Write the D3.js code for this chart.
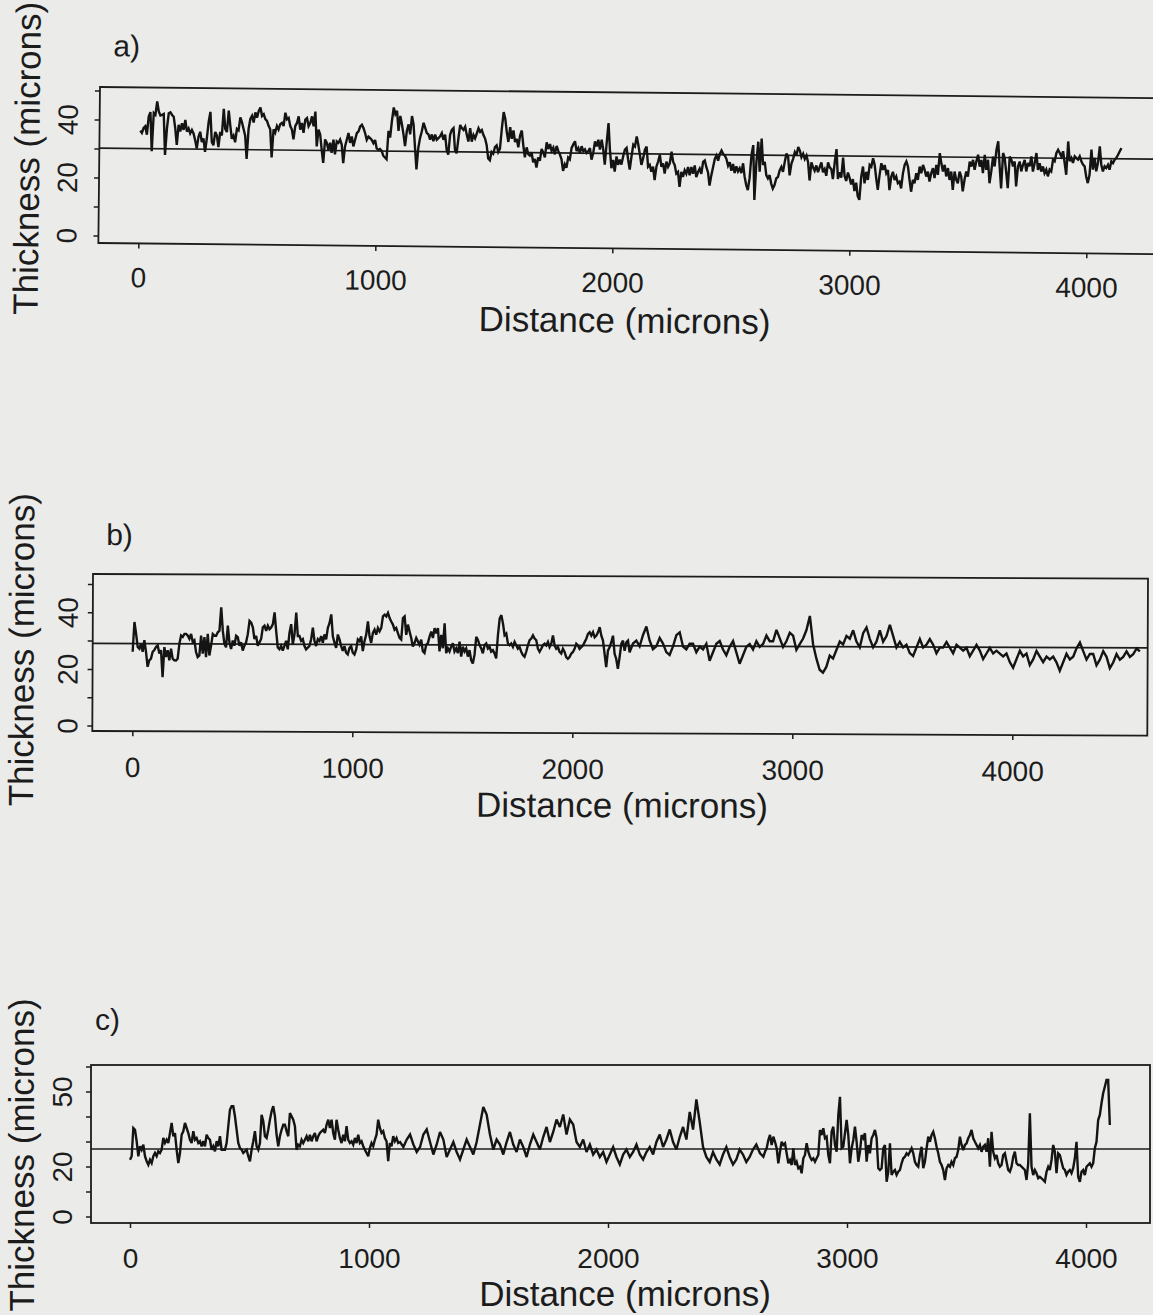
<!DOCTYPE html>
<html>
<head>
<meta charset="utf-8">
<script src="https://cdn.jsdelivr.net/npm/d3@7"></script>
<style>
body { margin: 0; background: #ebebe9; }
svg { display: block; }
text { font-family: "Liberation Sans", Arial, Helvetica, sans-serif; fill: #1c1c1c; }
</style>
</head>
<body>
<svg id="fig" width="1153" height="1315"></svg>
<script>
// thickness profiles (microns) at a regular spacing
var thickA = [
36.5,35.7,37.4,38.0,35.1,41.4,42.9,29.4,42.6,42.0,46.6,43.2,41.8,42.0,42.3,28.2,37.4,42.6,42.9,42.0,
41.4,37.4,31.7,38.6,36.3,39.2,36.9,40.3,36.3,37.4,35.7,36.9,35.7,33.4,30.5,34.6,36.3,32.8,34.0,29.4,
34.0,39.7,43.2,32.8,31.7,36.3,35.1,31.1,36.3,35.1,44.3,37.4,36.3,43.7,38.6,34.0,35.1,32.8,37.4,36.9,
41.4,39.7,37.4,35.1,
27.1,37.4,40.9,42.0,39.7,43.2,41.4,43.7,44.9,42.0,42.6,40.9,40.3,38.6,37.4,27.7,37.4,36.3,38.6,37.4,
39.2,39.7,38.6,43.2,40.9,41.4,38.6,37.4,34.0,38.6,39.7,42.0,37.4,39.7,36.3,40.9,41.4,38.6,39.7,42.0,
38.6,43.7,31.7,37.5,35.8,30.6,26.0,34.1,33.0,30.6,33.0,29.5,34.1,29.0,33.5,33.0,34.1,32.4,26.0,31.8,
34.1,36.4,33.0,35.2,31.8,34.1,36.4,37.0,38.7,39.3,38.1,36.4,34.1,35.2,34.7,34.1,33.0,34.1,31.2,30.7,
31.0,30.4,28.7,28.1,27.5,37.3,35.0,40.8,45.4,43.1,44.2,37.3,42.5,39.6,36.2,32.1,37.3,39.6,36.2,42.5,
39.6,31.6,24.1,31.6,35.0,37.3,40.2,38.5,36.7,36.2,34.4,36.2,33.9,36.2,34.4,35.0,35.6,36.7,34.4,36.2,
31.0,29.3,36.2,37.9,38.5,31.0,29.8,35.0,39.6,38.5,37.9,39.0,36.2,33.9,38.5,33.9,36.2,35.0,36.7,38.5,
37.3,37.9,36.2,35.0,32.7,28.1,27.5,30.4,29.8,32.1,32.7,30.4,31.6,38.5,44.2,41.9,37.3,33.9,39.0,35.0,
37.9,33.9,35.0,32.1,36.2,37.9,32.7,28.7,32.1,29.8,29.3,30.4,27.0,28.1,25.2,28.7,27.5,31.6,30.4,28.7,
33.9,31.6,33.3,31.0,32.1,29.8,32.7,31.0,29.8,28.1,24.1,26.4,25.2,28.7,28.1,32.1,33.3,34.4,31.0,32.1,
30.4,32.7,31.0,31.6,30.4,31.0,32.1,28.1,30.4,34.4,32.7,35.0,31.6,35.0,31.6,26.4,33.9,40.8,31.6,25.2,
28.1,24.1,29.3,26.4,
28.2,26.5,29.4,31.7,32.3,28.2,24.8,29.4,33.4,32.8,36.3,33.4,30.0,26.5,28.8,31.7,32.8,25.9,26.5,24.2,
25.9,21.3,25.9,27.7,30.0,25.9,27.1,23.6,27.7,25.9,27.1,31.1,27.7,26.5,23.6,24.2,19.0,24.2,22.5,24.8,
23.6,25.9,23.1,25.9,23.6,26.5,22.5,24.2,25.4,23.6,27.7,28.2,25.9,24.2,19.6,23.1,25.9,28.8,30.0,28.2,
30.5,31.7,30.5,30.0,28.8,26.5,27.7,24.8,27.1,24.0,26.3,24.6,25.7,24.0,27.4,22.8,19.9,18.2,22.3,30.3,
33.7,14.8,28.0,34.9,24.6,36.0,26.9,28.0,23.4,22.3,23.4,20.5,18.8,20.0,22.3,22.8,25.1,26.3,24.6,28.0,
30.9,29.7,23.4,27.4,29.1,31.4,30.3,33.2,32.0,29.7,30.9,29.1,30.3,28.0,21.7,28.0,26.3,25.1,26.9,24.6,
26.3,28.0,24.6,25.7,23.4,28.0,26.3,25.7,22.3,28.0,32.6,22.3,24.6,22.8,29.7,23.4,21.7,24.6,22.8,20.5,
22.3,18.2,21.1,16.5,
15.2,23.2,26.7,20.9,24.9,22.1,27.3,26.7,29.6,27.3,22.7,18.7,23.9,27.9,25.6,27.3,24.5,25.6,18.7,23.3,
25.0,22.2,23.4,21.1,21.6,19.3,24.5,27.4,28.6,26.8,22.3,18.2,22.3,21.1,24.6,22.3,26.9,24.6,27.5,25.8,
23.5,25.2,21.8,24.7,26.4,23.0,27.5,24.1,31.6,28.1,25.3,27.6,23.6,26.5,22.4,25.3,19.0,25.3,22.5,21.3,
25.3,23.6,18.5,22.5,25.4,23.6,28.8,27.1,29.4,26.0,28.9,31.2,27.1,29.4,24.9,31.2,26.0,29.5,21.4,25.5,
30.6,27.2,33.0,35.9,27.2,19.7,31.9,30.1,25.0,19.8,30.7,29.6,27.3,29.0,20.4,27.3,29.0,25.6,27.9,29.6,
25.6,28.5,27.4,30.8,25.6,28.5,32.0,26.2,28.5,25.6,27.4,25.1,26.3,24.0,26.3,25.7,29.7,29.2,32.1,33.2,
32.1,30.9,32.7,28.6,24.6,36.1,29.3,30.4,28.7,31.0,30.4,29.9,31.0,29.3,28.2,27.6,24.1,21.8,24.7,33.4,
26.5,30.5,25.9,28.8,34.5,28.2,25.9,27.7,27.1,28.2,26.5,29.4,28.8,30.0,30.6,31.7,32.9,34.0
];
var thickB1 = [
26.3,36.8,32.7,28.0,27.4,29.2,26.3,30.4,26.3,21.0,23.3,23.9,26.3,26.9,28.0,28.6,25.7,26.9,17.4,28.0,
24.5,26.9,23.3,27.4,23.9,23.3,23.3,23.9,29.2,32.1,31.6,32.7,32.7,32.1,31.0,32.7,29.8,30.4,26.3,24.5,
25.1,32.1,25.7,31.6,24.5,32.7,25.1,28.6,32.7,32.1,32.1,33.3,33.9,42.1,33.9,29.2,28.0,35.7,29.8,27.4,
30.4,28.6,32.1,31.6,28.6,29.8,26.9,28.6,29.8,32.7,37.4,36.8,35.1,31.0,32.1,28.6,29.8,31.0,35.1,35.7,
33.9,35.7,34.5,35.1,36.3,40.4,33.9,28.0,27.4,28.6,26.9,28.6,30.4,27.4,33.3,36.3,29.2,32.7,40.4,32.1,
32.1,30.4,31.0,28.6,27.4,28.0,28.6,31.0,35.1,30.4,28.6,31.0,30.4,32.1,29.8,32.7,31.0,35.1,36.8,39.8,
32.1,29.8,28.0,32.7,31.0,28.6,26.9,28.6,26.3,25.7,28.0,28.6,26.3,25.7,27.4,31.0,30.4,32.1,26.9,30.4,
32.7,37.4,32.1,29.8,33.3,34.5,32.7,35.1,33.9,
35.1,39.2,39.8,39.2,40.4,38.6,37.4,36.3,34.5,35.1,33.3,31.6,31.0,38.6,39.2,32.7,36.3,33.9,31.6,28.6,
29.8,31.6,30.4,29.2,31.0,26.9,26.3,29.2,29.8,32.1,33.9,31.6,35.1,33.3,35.1,26.9,32.7,28.0,36.8,26.3,
28.0,26.9,28.6,29.8,26.9,28.0,26.3,30.4,25.1,28.6,26.9,28.0,25.1,27.4,23.9,22.7,25.7,32.1,31.0,29.2,
28.0,26.3,29.2,29.8,28.0,28.6,26.9,27.4,26.3,24.5,32.7,38.6,39.8,36.8,32.7,33.3,29.8,29.2,29.8,28.6,
30.4,29.2,28.0,28.6,26.9,25.7,25.1,26.9,29.2,31.0,31.6,32.7,31.6,31.0,28.0,26.9,28.0,29.2,29.8,29.2,
30.4,28.6,29.8,32.7,29.2,28.0,28.6,26.9,26.3,28.0,26.9,25.1,24.5,25.1,26.3,26.9,28.0,29.8,29.2,28.0,
28.6,29.2,30.4,31.6,33.3,33.9,32.7,33.9,32.1,32.7,33.9,35.7,32.7,31.0,26.3,21.6,27.4,28.6,30.4,32.7,
26.3,24.5,21.0,25.1,29.8,31.0,27.4,30.4,31.0,26.9
];
var thickB2 = [
30,31,29,33,36,31,28,29,32,30,27,26,29,33,34,29,28,30,30,27,29,
28,30,24,27,30,31,28,26,29,31,27,23,26,29,30,28,31,29,
30,33,31,31,35,32,29,31,34,33,28,30,
32,35,40,30,25,
21,20,22,26,25,28,31,
30,33,32,35,31,29,34,36,32,
29,31,35,31,33,37,33,29,31,
29,30,27,26,29,32,29,30,32,30,27,29,29,31,29,27,30,29,
28,29,26,28,30,28,25,27,29,27,28,27,
26,27,24,22,25,28,26,27,23,25,28,26,24,26,25,
26,24,21,24,27,25,26,29,31,28,25,27,27,23,25,28,26,22,24,27,25,26,28,26,27,29,28
];
var thickC1 = [
22.9,24.3,35.6,34.9,30.3,24.3,28.3,26.9,28.9,24.3,22.3,20.9,22.9,21.6,24.3,25.6,24.3,26.3,25.6,26.9,
31.6,29.6,30.9,29.6,33.6,37.6,32.3,33.6,26.9,21.6,25.6,32.9,34.3,37.6,35.6,33.6,30.9,29.6,34.3,30.9,
31.6,29.6,30.3,28.3,30.3,28.3,32.9,31.6,30.9,26.9,28.3,26.3,30.3,28.3,32.3,26.9,26.9,26.9,29.6,36.3,
42.9,44.3,44.3,40.3,34.9,29.6,27.6,26.9,25.6,26.3,26.9,24.3,22.3,26.9,30.3,34.3,28.3,26.9,29.6,40.9,
38.3,32.3,31.6,34.9,38.9,42.3,44.3,40.3,32.9,28.3,32.3,34.9,36.9,36.9,34.3,32.3,41.6,40.3,38.9,36.3,
26.9,28.9,28.3,30.9,29.6,30.9,32.3,30.3,32.9,30.3,32.3,33.6,30.3,32.3,33.6,34.3,34.9,33.6,36.9,38.9,
35.6,38.9,33.6,30.9,38.9,34.9,31.6,29.6,32.9,30.3,36.3,30.9,29.6,30.3,28.9,31.6,29.6,32.9,29.6,30.3,
28.3,26.9,25.6,24.3,27.6,29.6,28.3,30.9,32.9,38.9,35.6,33.6,34.3,31.6,30.3,22.3,29.6,28.3,32.3,30.3,
31.6,29.6
];
var thickC2 = [
30,28,31,33,29,26,28,33,35,30,25,29,34,31,24,27,30,26,23,27,
31,28,25,30,37,44,41,33,27,31,29,25,30,34,29,26,31,28,24,29,
33,30,27,32,36,30,34,39,36,41,33,39,37,30,28,31,26,29,25,27,
24,26,22,25,28,24,21,25,27,24,26,29,25,23,26,28,25,30,33,28,
31,35,30,27,32,36,31,42,35,47,38,28,24,22,26,23,21,25,28,24,
21,23,27,25,22,24,27,29
];
var thickC3 = [
25.5,24.8,24.1,26.1,27.5,30.8,32.8,28.8,32.1,30.1,27.5,21.5,26.1,30.1,28.8,29.5,25.5,21.5,22.8,20.8,
27.5,20.8,22.1,19.5,20.1,17.5,23.5,24.8,29.5,26.1,24.1,22.8,23.5,22.1,23.5,24.8,34.8,32.8,35.5,31.5,
32.1,24.8,21.5,34.1,36.1,28.8,26.1,40.8,48.1,27.5,28.1,33.5,38.8,32.8,21.5,27.5,30.8,36.1,30.1,22.1,
26.1,32.8,31.5,33.5,22.1,28.8,25.5,31.5,32.8,34.8,31.5,19.5,18.8,19.5,27.5,28.8,14.1,18.1,29.5,16.8,
18.1,18.8,16.8,18.1,18.8,21.5,23.5,24.1,25.5,24.8,26.1,27.5,25.5,22.1,20.8,20.1,24.8,28.1,19.5,22.1,
27.5,32.1,30.1,32.8,34.1,31.5,28.1,25.5,22.1,20.8,18.8,14.8,19.5,20.8,20.1,22.1,20.8,23.5,24.1,26.8,
32.1,28.8,26.8,28.8,29.5,31.5,32.8,34.8,31.5,30.1,28.8,27.5,28.8,26.1,28.1,28.8,26.1,31.5,20.1,34.1,
26.1,23.5,24.8,21.5,20.1,20.8,24.8,25.5,22.1,18.8,18.1,20.1,24.1,26.1,21.5,20.8,20.8,20.1,19.5,18.8,
14.8,21.5,41.5,20.1,16.8,18.8,17.5,15.5,16.1,15.5,14.8,14.1,18.1,20.1,18.8,22.8,28.8,26.1,17.5,25.5,
24.8,22.1,19.5,18.8,16.8,18.1,18.8,17.5,19.5,23.5,30.1,16.1,14.1,18.1,18.8,16.8,20.1,20.8,21.5,20.1,
21.5,27.5,30.1,38.8,40.8,45.5,49.5,52.1,54.8,54.8,36.8
];

// mean thickness drawn as the horizontal reference line
var meanA = 30.3, meanB = 29.2, meanC = 27.2;

// each run of readings: [first position (microns), spacing (microns), values]
var runsA = [[3, 7.03, thickA]];
var runsB = [[0, 7.58, thickB1], [2274, 15.16, thickB2]];
var runsC = [[0, 6.97, thickC1], [1130, 13.93, thickC2], [2636, 6.97, thickC3]];

var xTicks = [0, 1000, 2000, 3000, 4000];
var yTicksAB = [0, 10, 20, 30, 40, 50];
var yLabelsAB = [0, 20, 40];
var yTicksC = [0, 10, 20, 30, 40, 50, 60];
var yLabelsC = [0, 20, 50];

function toPoints(runs) {
  var pts = [];
  runs.forEach(function(r) {
    r[2].forEach(function(v, i) { pts.push({d: r[0] + i * r[1], v: v}); });
  });
  return pts;
}

var svg = d3.select("#fig");

var panels = [
  {letter: "a)", runs: runsA, mean: meanA, yTicks: yTicksAB, yLabels: yLabelsAB,
   box: [100, 1165, 87, 243], xr: [140, 1088], yr: [236, 91], tilt: 0.6,
   letterPos: [113, 56], tickPad: 19, titleX: 627, titleY: 327, yTitleX: 40, yLabX: 78, yTitleY: 159},
  {letter: "b)", runs: runsB, mean: meanB, yTicks: yTicksAB, yLabels: yLabelsAB,
   box: [93, 1148, 574, 731], xr: [133, 1013], yr: [726, 584.5], tilt: 0.25,
   letterPos: [106, 545], tickPad: 21, titleX: 623, titleY: 815, yTitleX: 34, yLabX: 78, yTitleY: 650},
  {letter: "c)", runs: runsC, mean: meanC, yTicks: yTicksC, yLabels: yLabelsC,
   box: [91, 1150, 1065, 1223], xr: [130, 1086], yr: [1217, 1092], tilt: 0,
   letterPos: [95, 1030], tickPad: 20, titleX: 625, titleY: 1306, yTitleX: 34, yLabX: 72, yTitleY: 1155}
];

panels.forEach(function(p) {
  var left = p.box[0], right = p.box[1], top = p.box[2], bottom = p.box[3];

  var x = d3.scaleLinear().domain([0, 4000]).range(p.xr);
  var y = d3.scaleLinear().domain([0, 50]).range(p.yr);

  var g = svg.append("g")
    .attr("transform", "rotate(" + p.tilt + " " + left + " " + top + ")");

  g.append("text")
    .attr("x", p.letterPos[0]).attr("y", p.letterPos[1])
    .style("font-size", "30px")
    .text(p.letter);

  // plot frame
  g.append("rect")
    .attr("x", left).attr("y", top)
    .attr("width", right - left).attr("height", bottom - top)
    .attr("fill", "none").attr("stroke", "#1c1c1c").attr("stroke-width", 1.8);

  // mean line
  g.append("line")
    .attr("x1", left).attr("x2", right)
    .attr("y1", y(p.mean)).attr("y2", y(p.mean))
    .attr("stroke", "#1c1c1c").attr("stroke-width", 1.7);

  // thickness trace
  var line = d3.line()
    .x(function(d) { return x(d.d); })
    .y(function(d) { return y(d.v); });

  g.append("path")
    .datum(toPoints(p.runs))
    .attr("d", line)
    .attr("fill", "none")
    .attr("stroke", "#141414")
    .attr("stroke-width", 2.4)
    .attr("stroke-linejoin", "miter")
    .attr("stroke-miterlimit", 3);

  // x axis
  var xa = g.append("g")
    .attr("transform", "translate(0," + bottom + ")")
    .call(d3.axisBottom(x).tickValues(xTicks).tickSize(5).tickPadding(p.tickPad).tickFormat(d3.format("d")));
  xa.select(".domain").remove();
  xa.selectAll("line").attr("stroke", "#1c1c1c").attr("stroke-width", 1.5);
  xa.selectAll("text")
    .style("font-size", "28px")
    .style("font-family", "'Liberation Sans', Arial, sans-serif")
    .attr("fill", "#1c1c1c");

  // y axis ticks
  g.selectAll(".ytick")
    .data(p.yTicks)
    .enter().append("line")
    .attr("class", "ytick")
    .attr("x1", left - 5).attr("x2", left)
    .attr("y1", function(d) { return y(d); })
    .attr("y2", function(d) { return y(d); })
    .attr("stroke", "#1c1c1c").attr("stroke-width", 1.5);

  g.selectAll(".ylab")
    .data(p.yLabels)
    .enter().append("text")
    .attr("class", "ylab")
    .attr("transform", function(d) { return "translate(" + p.yLabX + "," + y(d) + ") rotate(-90)"; })
    .attr("text-anchor", "middle")
    .style("font-size", "28px")
    .text(function(d) { return d; });

  // axis titles
  g.append("text")
    .attr("x", p.titleX).attr("y", p.titleY)
    .attr("text-anchor", "middle")
    .style("font-size", "35px")
    .text("Distance (microns)");

  g.append("text")
    .attr("transform", "translate(" + p.yTitleX + "," + p.yTitleY + ") rotate(-90)")
    .attr("text-anchor", "middle")
    .style("font-size", "35px")
    .text("Thickness (microns)");
});
</script>
</body>
</html>
